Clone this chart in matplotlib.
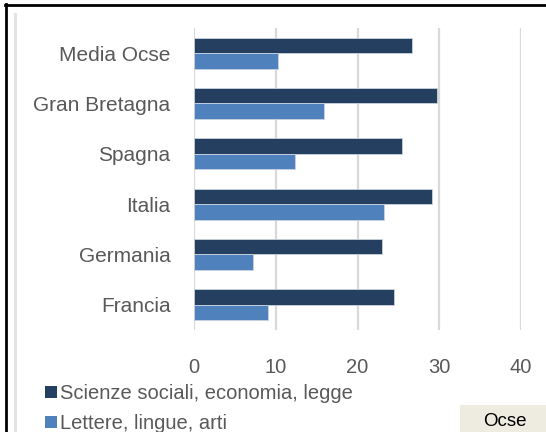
import numpy as np
import matplotlib.pyplot as plt
from matplotlib.patches import Rectangle, Patch
from matplotlib.lines import Line2D

plt.rcParams['font.family'] = ['Liberation Sans', 'DejaVu Sans']

# Dati (%), dall'alto verso il basso
paesi = ['Media Ocse', 'Gran Bretagna', 'Spagna', 'Italia', 'Germania', 'Francia']
scienze_sociali = [26.7, 29.7, 25.4, 29.1, 23.0, 24.5]
lettere = [10.3, 15.9, 12.3, 23.2, 7.2, 9.1]
serie = ['Scienze sociali, economia, legge', 'Lettere, lingue, arti']

scuro = '#243F60'
chiaro = '#4F81BD'
grigio = '#595959'

fig = plt.figure(figsize=(5.46, 4.32), dpi=100)
ax = fig.add_axes([194 / 546, 1 - 330 / 432, (521 - 194) / 546, (330 - 28) / 432])

y = np.arange(len(paesi))
h = 0.305
ax.barh(y - h / 2, scienze_sociali, height=h, color=scuro, edgecolor='#C9D3E0', linewidth=0.6, zorder=3)
ax.barh(y + h / 2, lettere, height=h, color=chiaro, edgecolor='#C9D3E0', linewidth=0.6, zorder=3)

ax.set_xlim(0, 40)
ax.set_ylim(-0.5, len(paesi) - 0.5)
ax.invert_yaxis()
ax.set_xticks([0, 10, 20, 30, 40])
ax.set_yticks(y)
ax.set_yticklabels(paesi)
ax.xaxis.grid(True, color='#D9D9D9', linewidth=1.6, zorder=0)
ax.tick_params(axis='x', length=0, pad=20, labelsize=14.5, labelcolor=grigio)
ax.tick_params(axis='y', length=0, pad=17, labelsize=15, labelcolor=grigio)
for s in ax.spines.values():
    s.set_visible(False)

# legenda
handles = [Patch(facecolor=scuro), Patch(facecolor=chiaro)]
leg = fig.legend(handles, serie, loc='upper left', bbox_to_anchor=(45 / 546, 1 - 384 / 432),
                 frameon=False, fontsize=14.5, handlelength=0.6, handleheight=0.6,
                 handletextpad=0.12, labelspacing=0.55, borderaxespad=0, borderpad=0)
for t in leg.get_texts():
    t.set_color(grigio)

# cornice
fig.add_artist(Line2D([5 / 546, 1], [1 - 4.5 / 432] * 2, color='black', linewidth=2))
fig.add_artist(Line2D([6 / 546] * 2, [0, 1 - 4 / 432], color='black', linewidth=2))
fig.add_artist(Line2D([14.5 / 546] * 2, [0, 1 - 14 / 432], color='#E3E3E3', linewidth=2.2))

# etichetta Ocse
fig.add_artist(Rectangle((460 / 546, 0), 86 / 546, 27 / 432, transform=fig.transFigure,
                         facecolor='#EEECE1', edgecolor='none'))
fig.text(505 / 546, 1 - 421 / 432, 'Ocse', ha='center', va='center', fontsize=13.5, color='black')

fig.savefig('out.png', dpi=100)
